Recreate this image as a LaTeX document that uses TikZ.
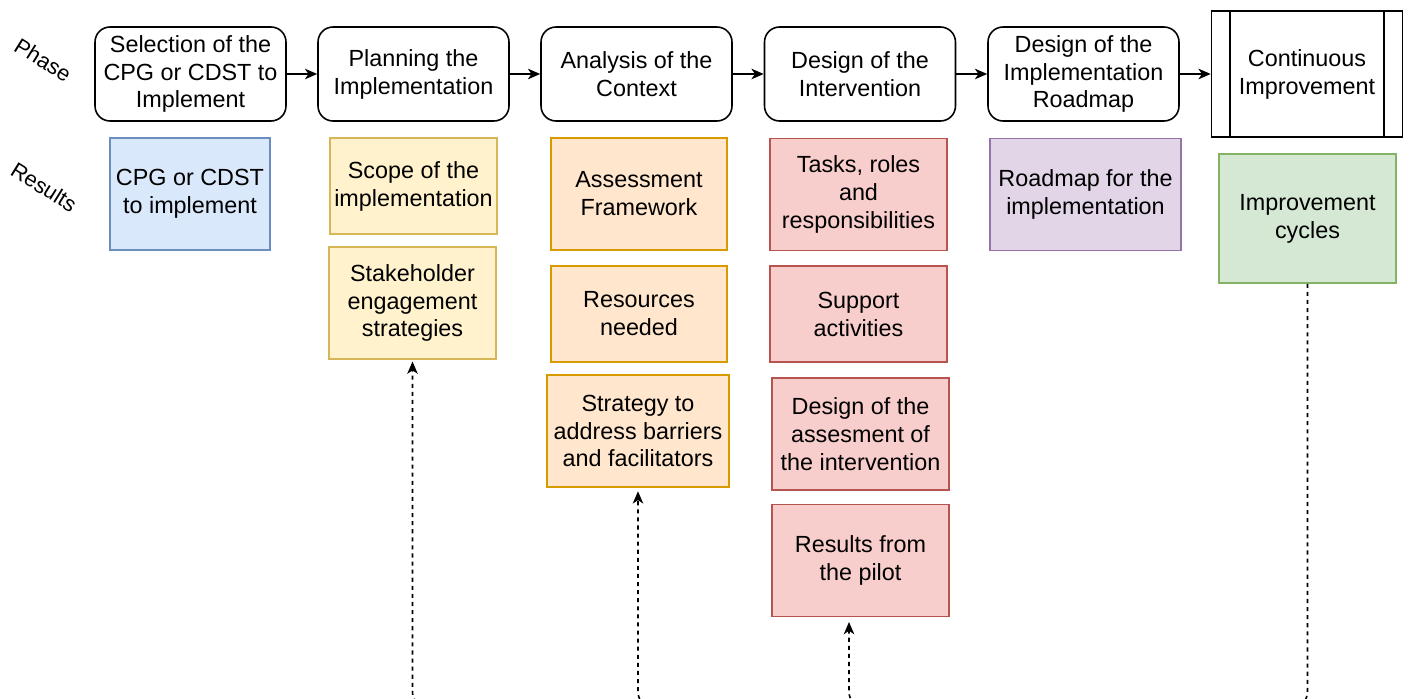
\documentclass[tikz,border=0pt]{standalone}
\usepackage{fontspec}
\setmainfont{Liberation Sans}
\usepackage{tikz}
\usetikzlibrary{arrows.meta}

\definecolor{bluefill}{HTML}{DAE8FC}
\definecolor{blueline}{HTML}{6C8EBF}
\definecolor{yelfill}{HTML}{FFF2CC}
\definecolor{yelline}{HTML}{D6B656}
\definecolor{orafill}{HTML}{FFE6CC}
\definecolor{oraline}{HTML}{D79B00}
\definecolor{redfill}{HTML}{F8CECC}
\definecolor{redline}{HTML}{B85450}
\definecolor{purfill}{HTML}{E1D5E7}
\definecolor{purline}{HTML}{9673A6}
\definecolor{grefill}{HTML}{D5E8D4}
\definecolor{greline}{HTML}{82B366}

\begin{document}
\begin{tikzpicture}[x=0.02cm,y=-0.02cm,line width=0.9pt,
	>={Stealth[length=7pt,width=6pt,inset=2pt]},
	every node/.style={align=center,inner sep=0pt,font=\fontsize{13.3}{15.9}\selectfont},
	phase/.style={draw,rounded corners=0.3cm,minimum width=3.82cm,minimum height=1.88cm},
	result/.style={draw,minimum height=2.24cm},
	lowres/.style={draw,minimum height=1.92cm},
	side/.style={rotate=-32,font=\fontsize{12.4}{14}\selectfont},
	loopline/.style={dash pattern=on 2.3pt off 2.3pt,rounded corners=0.3cm,->}]
	\useasboundingbox (0,0) rectangle (1411,699);
	\clip (0,0) rectangle (1411,699);
	
	\node[side] (phs) at (43,60) {Phase};
	\node[side] (res) at (44,187) {Results};
	
	\node[phase] (p1) at (190.5,74) {Selection of the\\CPG or CDST to\\Implement};
	\node[phase] (p2) at (413.5,74) {Planning the\\Implementation};
	\node[phase] (p3) at (636.5,74) {Analysis of the\\Context};
	\node[phase] (p4) at (860,74) {Design of the\\Intervention};
	\node[phase] (p5) at (1083.5,74) {Design of the\\Implementation\\Roadmap};
	\node[draw,minimum width=3.82cm,minimum height=2.52cm] (p6) at (1307,74) {Continuous\\Improvement};
	\draw ([xshift=0.38cm]p6.north west) -- ([xshift=0.38cm]p6.south west);
	\draw ([xshift=-0.38cm]p6.north east) -- ([xshift=-0.38cm]p6.south east);
	
	\draw[->] (p1) -- (p2);
	\draw[->] (p2) -- (p3);
	\draw[->] (p3) -- (p4);
	\draw[->] (p4) -- (p5);
	\draw[->] (p5) -- (p6);
	
	\node[result,fill=bluefill,draw=blueline,minimum width=3.2cm] (r1) at (190,194) {CPG or CDST\\to implement};
	
	\node[lowres,fill=yelfill,draw=yelline,minimum width=3.34cm] (r2) at (413.5,186) {Scope of the\\implementation};
	\node[result,fill=yelfill,draw=yelline,minimum width=3.34cm] (r3) at (412.5,303) {Stakeholder\\engagement\\strategies};
	
	\node[result,fill=orafill,draw=oraline,minimum width=3.52cm] (r4) at (639,194) {Assessment\\Framework};
	\node[lowres,fill=orafill,draw=oraline,minimum width=3.52cm] (r5) at (639,314) {Resources\\needed};
	\node[result,fill=orafill,draw=oraline,minimum width=3.64cm] (r6) at (638,431) {Strategy to\\address barriers\\and facilitators};
	
	\node[result,fill=redfill,draw=redline,minimum width=3.54cm] (r7) at (858.5,194.5) {Tasks, roles\\and\\responsibilities};
	\node[lowres,fill=redfill,draw=redline,minimum width=3.54cm] (r8) at (858.5,314) {Support\\activities};
	\node[result,fill=redfill,draw=redline,minimum width=3.54cm] (r9) at (860.5,434) {Design of the\\assesment of\\the intervention};
	\node[result,fill=redfill,draw=redline,minimum width=3.54cm] (r10) at (860.5,560.5) {Results from\\the pilot};
	
	\node[result,fill=purfill,draw=purline,minimum width=3.82cm] (r11) at (1085.5,194.5) {Roadmap for the\\implementation};
	
	\node[draw,fill=grefill,draw=greline,minimum width=3.54cm,minimum height=2.58cm] (r12) at (1307.5,218.5) {Improvement\\cycles};
	
	% feedback from the improvement cycles
	\coordinate (low) at (0,707);
	\coordinate (pin) at (849,622);
	\draw[loopline] (r12.south) -- (r12.south |- low) -| ([yshift=-1pt]r3.south);
	\draw[loopline] (r12.south |- low) -| ([yshift=-2pt]r6.south);
	\draw[loopline] (r12.south |- low) -| (pin);
	
\end{tikzpicture}
\end{document}
